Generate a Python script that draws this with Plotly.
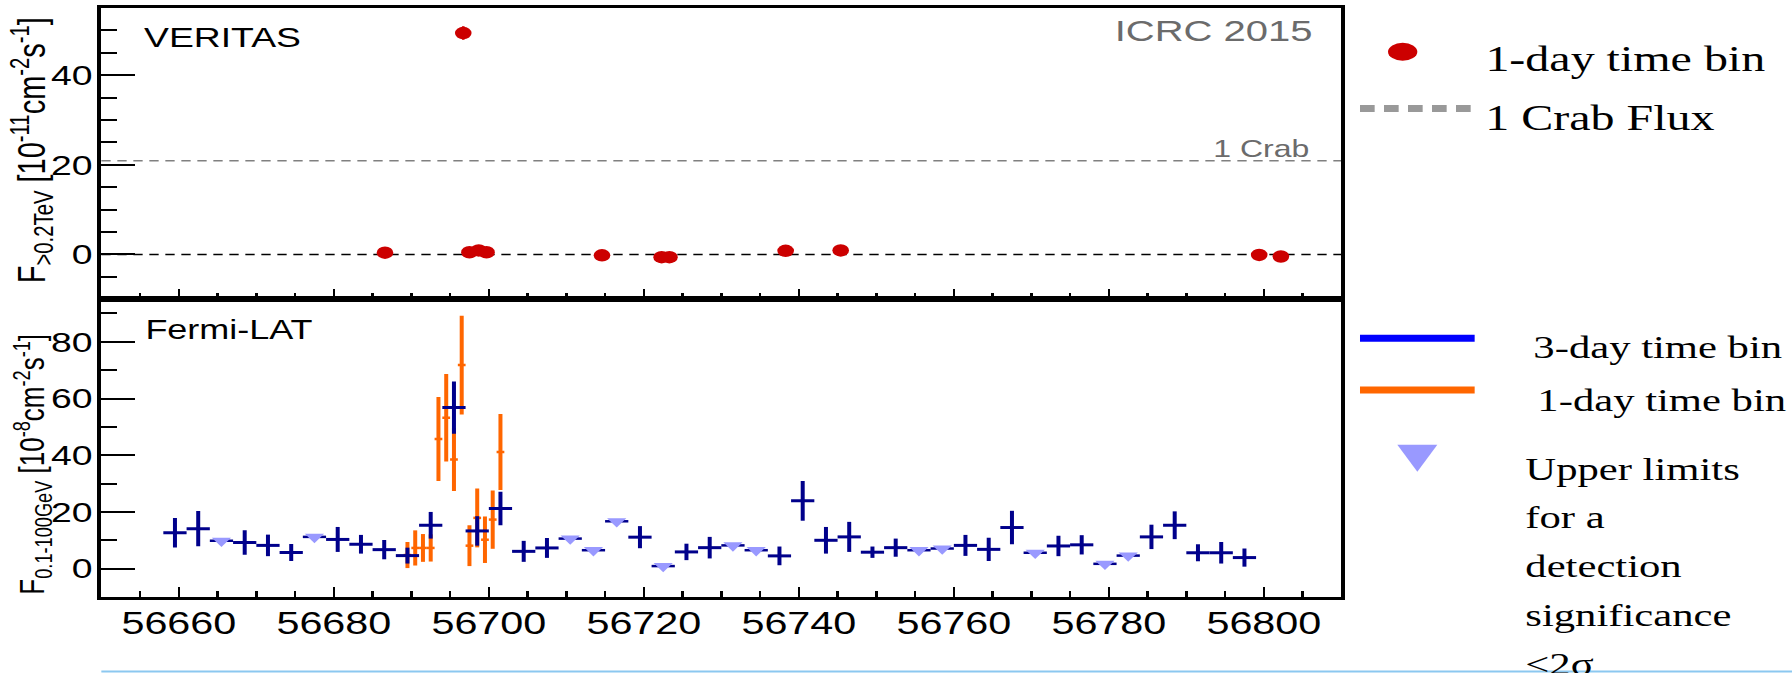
import plotly.graph_objects as go

# ---------------------------------------------------------------------------
# Light-curve data
# ---------------------------------------------------------------------------
# VERITAS nightly integral flux above 0.2 TeV  [1e-11 cm^-2 s^-1]
veritas_mjd = [56686.6, 56696.7, 56697.5, 56698.7, 56699.7, 56714.6,
               56722.3, 56723.3, 56738.3, 56745.4, 56799.4, 56802.2]
veritas_flux = [0.4, 49.4, 0.5, 0.9, 0.5, -0.2, -0.6, -0.6, 0.8, 0.9, -0.1, -0.45]
veritas_err = [0.6, 1.5, 0.6, 0.6, 0.6, 0.6, 0.6, 0.6, 0.6, 0.6, 0.6, 0.6]
crab_flux = 20.9

# Fermi-LAT 0.1-100 GeV flux, 3-day bins with a detection  [1e-8 cm^-2 s^-1]
fermi3_mjd = [56659.5, 56662.5, 56668.5, 56671.5, 56674.5, 56680.5, 56683.5,
              56686.5, 56689.5, 56692.5, 56695.5, 56698.5, 56701.5, 56704.5,
              56707.5, 56719.5, 56725.5, 56728.5, 56737.5, 56740.5, 56743.5,
              56746.5, 56749.5, 56752.5, 56761.5, 56764.5, 56767.5, 56773.5,
              56776.5, 56785.5, 56788.5, 56791.5, 56794.5, 56797.5]
fermi3_flux = [12.7, 14.1, 9.2, 8.2, 5.7, 10.3, 8.6, 6.7, 4.6, 15.3, 56.8, 13.3,
               21.2, 6.1, 7.3, 11.1, 5.9, 7.4, 4.5, 23.9, 10.0, 11.2, 5.8, 7.4,
               8.2, 6.8, 14.5, 8.0, 8.4, 11.2, 15.3, 5.6, 5.6, 3.9]
fermi3_err = [5.2, 6.2, 4.3, 3.8, 3.0, 4.4, 3.3, 3.4, 2.8, 4.7, 9.2, 5.2, 5.9,
              3.7, 3.5, 3.9, 2.9, 3.8, 3.3, 7.0, 4.7, 5.3, 2.0, 3.2, 3.7, 4.1,
              5.9, 3.6, 3.4, 4.3, 4.9, 3.0, 3.8, 3.2]
fermi3_halfwidth = 1.5

# 3-day bins with significance < 2 sigma: upper limits
fermi_ul_mjd = [56665.5, 56677.5, 56710.5, 56713.5, 56716.5, 56722.5, 56731.5,
                56734.5, 56755.5, 56758.5, 56770.5, 56779.5, 56782.5]
fermi_ul_flux = [9.8, 11.2, 10.6, 6.5, 16.7, 0.9, 8.2, 6.5, 6.5, 7.1, 5.6, 1.7, 4.6]

# Fermi-LAT 1-day bins around the flare
fermi1_mjd = [56689.5, 56690.5, 56691.5, 56692.5, 56693.5, 56694.5, 56695.5,
              56696.5, 56697.5, 56698.5, 56699.5, 56700.5, 56701.5]
fermi1_flux = [4.8, 7.3, 7.3, 7.3, 45.7, 53.2, 38.5, 71.8, 8.1, 17.9, 10.2, 17.3, 41.1]
fermi1_err = [4.6, 6.2, 4.9, 4.8, 14.8, 15.4, 11.1, 17.4, 7.2, 10.4, 8.2, 10.3, 13.4]
fermi1_halfwidth = 0.5

# Axis settings
mjd_range = [56650, 56810]
mjd_ticks = [56660, 56680, 56700, 56720, 56740, 56760, 56780, 56800]
mjd_ticktext = [str(t) for t in mjd_ticks]
veritas_range = [-10, 55]
fermi_range = [-10, 95]

# Legend text
legend_lines = {
    "veritas": "1-day time bin",
    "crab": "1 Crab Flux",
    "fermi3": "3-day time bin",
    "fermi1": "1-day time bin",
    "ul": ["Upper limits", "for a", "detection", "significance", "&lt;2σ"],
}

# ---------------------------------------------------------------------------
# Layout geometry (in CSS pixels of the unstretched figure)
# ---------------------------------------------------------------------------
FIG_W, FIG_H = 1344, 673
STRETCH_X = 1792 / FIG_W
MARGIN = dict(l=76, r=338, t=5, b=76)
PANEL_SPLIT = 0.5055


def paper_x(px):
    return (px - MARGIN["l"]) / (FIG_W - MARGIN["l"] - MARGIN["r"])


def paper_y(py):
    return (FIG_H - MARGIN["b"] - py) / (FIG_H - MARGIN["t"] - MARGIN["b"])


NAVY = "#00008b"
ORANGE = "#ff6600"
UL_COLOR = "#9999ff"
RED = "#cc0000"
GREY_TXT = "#6b6b6b"
SANS = "Liberation Sans, Arial, Helvetica, sans-serif"
SERIF = "Liberation Serif, Times New Roman, serif"

fig = go.Figure()

# --- VERITAS panel --------------------------------------------------------
fig.add_trace(go.Scatter(
    x=veritas_mjd, y=veritas_flux, mode="markers", xaxis="x2", yaxis="y2",
    marker=dict(color=RED, size=12.5, line=dict(width=0)),
    error_y=dict(type="data", array=veritas_err, color=RED, thickness=2, width=0),
    showlegend=False, hoverinfo="x+y",
))

# --- Fermi panel ------------------------------------------------------------
fig.add_trace(go.Scatter(
    x=fermi1_mjd, y=fermi1_flux, mode="markers", xaxis="x", yaxis="y",
    marker=dict(color=ORANGE, size=1, opacity=0),
    error_x=dict(type="constant", value=fermi1_halfwidth, color=ORANGE, thickness=2.5, width=0),
    error_y=dict(type="data", array=fermi1_err, color=ORANGE, thickness=3, width=0),
    showlegend=False,
))
fig.add_trace(go.Scatter(
    x=fermi3_mjd, y=fermi3_flux, mode="markers", xaxis="x", yaxis="y",
    marker=dict(color=NAVY, size=1, opacity=0),
    error_x=dict(type="constant", value=fermi3_halfwidth, color=NAVY, thickness=3, width=0),
    error_y=dict(type="data", array=fermi3_err, color=NAVY, thickness=3, width=0),
    showlegend=False,
))
fig.add_trace(go.Scatter(
    x=fermi_ul_mjd, y=fermi_ul_flux, mode="markers", xaxis="x", yaxis="y",
    marker=dict(color=UL_COLOR, size=12.5, symbol="triangle-down", line=dict(width=0)),
    error_x=dict(type="constant", value=fermi3_halfwidth, color=NAVY, thickness=2.5, width=0),
    showlegend=False,
))

axis_common = dict(
    showline=True, linewidth=3, linecolor="black", mirror=True,
    showgrid=False, zeroline=False, ticks="inside", tickcolor="black",
)

fig.update_layout(
    width=FIG_W, height=FIG_H, margin=MARGIN,
    paper_bgcolor="white", plot_bgcolor="white",
    font=dict(family=SANS, color="black"),
    xaxis=dict(
        **axis_common, domain=[0, 1], anchor="y", range=mjd_range,
        tickvals=mjd_ticks, ticktext=mjd_ticktext, ticklen=10, tickwidth=2,
        tickfont=dict(size=31, family=SANS), ticklabelstandoff=-3,
        minor=dict(ticks="inside", dtick=5, tick0=56650, ticklen=6, tickwidth=2,
                   tickcolor="black", showgrid=False),
    ),
    xaxis2=dict(
        **axis_common, domain=[0, 1], anchor="y2", range=mjd_range, matches="x",
        tickvals=mjd_ticks, ticklen=10, tickwidth=2, showticklabels=False,
        minor=dict(ticks="inside", dtick=5, tick0=56650, ticklen=6, tickwidth=2,
                   tickcolor="black", showgrid=False),
    ),
    yaxis=dict(
        **axis_common, domain=[0, PANEL_SPLIT], anchor="x", range=fermi_range,
        tick0=0, dtick=20, ticklen=25, tickwidth=2,
        tickfont=dict(size=28, family=SANS), ticklabelstandoff=-2,
        minor=dict(ticks="inside", dtick=10, tick0=0, ticklen=12, tickwidth=2,
                   tickcolor="black", showgrid=False),
    ),
    yaxis2=dict(
        **axis_common, domain=[PANEL_SPLIT, 1], anchor="x2", range=veritas_range,
        tick0=0, dtick=20, ticklen=25, tickwidth=2,
        tickfont=dict(size=28, family=SANS), ticklabelstandoff=-2,
        minor=dict(ticks="inside", dtick=5, tick0=0, ticklen=12, tickwidth=2,
                   tickcolor="black", showgrid=False),
    ),
)

# Reference lines in the VERITAS panel: zero flux and 1 Crab
fig.add_shape(type="line", xref="x2 domain", yref="y2", x0=0, x1=1, y0=0, y1=0,
              line=dict(color="black", width=1.5, dash="7px,5px"), layer="below")
fig.add_shape(type="line", xref="x2 domain", yref="y2", x0=0, x1=1,
              y0=crab_flux, y1=crab_flux,
              line=dict(color="#808080", width=1.5, dash="7px,5px"), layer="below")

# Panel labels
annotations = [
    dict(text="VERITAS", x=paper_x(106), y=paper_y(34.5), xanchor="left", yanchor="middle",
         font=dict(size=28, family=SANS, color="black")),
    dict(text="Fermi-LAT", x=paper_x(107), y=paper_y(328.5), xanchor="left", yanchor="middle",
         font=dict(size=27, family=SANS, color="black")),
    dict(text="ICRC 2015", x=paper_x(986), y=paper_y(28), xanchor="right", yanchor="middle",
         font=dict(size=30, family=SANS, color=GREY_TXT)),
    dict(text="1 Crab", x=paper_x(984), y=paper_y(146), xanchor="right", yanchor="middle",
         font=dict(size=24, family=SANS, color=GREY_TXT)),
    # Rotated axis titles
    dict(text="F<sub>&gt;0.2TeV</sub> [10<sup>-11</sup>cm<sup>-2</sup>s<sup>-1</sup>]",
         x=paper_x(24), y=paper_y(148), xanchor="center", yanchor="middle", textangle=-90,
         font=dict(size=29, family=SANS, color="black")),
    dict(text="F<sub>0.1-100GeV</sub> [10<sup>-8</sup>cm<sup>-2</sup>s<sup>-1</sup>]",
         x=paper_x(24), y=paper_y(464), xanchor="center", yanchor="middle", textangle=-90,
         font=dict(size=26, family=SANS, color="black")),
]

# Legend on the right-hand side
legend_font = dict(size=36, family=SERIF, color="black")
legend_font_small = dict(size=32, family=SERIF, color="black")
annotations += [
    dict(text=legend_lines["veritas"], x=paper_x(1112), y=paper_y(56.5), xanchor="left",
         yanchor="middle", font=legend_font),
    dict(text=legend_lines["crab"], x=paper_x(1112), y=paper_y(116), xanchor="left",
         yanchor="middle", font=legend_font),
    dict(text=legend_lines["fermi3"], x=paper_x(1148), y=paper_y(346), xanchor="left",
         yanchor="middle", font=legend_font_small),
    dict(text=legend_lines["fermi1"], x=paper_x(1151), y=paper_y(399), xanchor="left",
         yanchor="middle", font=legend_font_small),
]
for i, line in enumerate(legend_lines["ul"]):
    annotations.append(dict(text=line, x=paper_x(1142), y=paper_y(468 + 49 * i),
                            xanchor="left", yanchor="middle", font=legend_font_small))

for a in annotations:
    a.update(xref="paper", yref="paper", showarrow=False)
fig.update_layout(annotations=annotations)

# Legend symbols
fig.add_shape(type="circle", xref="paper", yref="paper",
              x0=paper_x(1041), x1=paper_x(1063), y0=paper_y(40), y1=paper_y(58),
              fillcolor=RED, line=dict(width=0))
fig.add_shape(type="line", xref="paper", yref="paper",
              x0=paper_x(1020), x1=paper_x(1106), y0=paper_y(106), y1=paper_y(106),
              line=dict(color="#999999", width=7, dash="11px,7px"))
fig.add_shape(type="line", xref="paper", yref="paper",
              x0=paper_x(1020), x1=paper_x(1106), y0=paper_y(337), y1=paper_y(337),
              line=dict(color="#0000ff", width=7))
fig.add_shape(type="line", xref="paper", yref="paper",
              x0=paper_x(1020), x1=paper_x(1106), y0=paper_y(389), y1=paper_y(389),
              line=dict(color=ORANGE, width=7))
tri = [(1048, 444), (1078, 444), (1063, 471)]
fig.add_shape(type="path", xref="paper", yref="paper",
              path="M {} {} L {} {} L {} {} Z".format(
                  paper_x(tri[0][0]), paper_y(tri[0][1]),
                  paper_x(tri[1][0]), paper_y(tri[1][1]),
                  paper_x(tri[2][0]), paper_y(tri[2][1])),
              fillcolor=UL_COLOR, line=dict(width=0))

# Thin rule along the bottom edge
fig.add_shape(type="line", xref="paper", yref="paper",
              x0=paper_x(76), x1=paper_x(FIG_W), y0=paper_y(672), y1=paper_y(672),
              line=dict(color="#8cc8f0", width=2))

# The slide stretches the whole figure horizontally
stretch_js = """
var gd = document.getElementById('{plot_id}');
document.body.style.margin = '0';
document.body.style.overflow = 'hidden';
gd.style.transformOrigin = '0 0';
gd.style.transform = 'scaleX(%.5f)';
""" % STRETCH_X

fig.write_html("out.html", post_script=stretch_js,
               default_width="%dpx" % FIG_W, default_height="%dpx" % FIG_H)
